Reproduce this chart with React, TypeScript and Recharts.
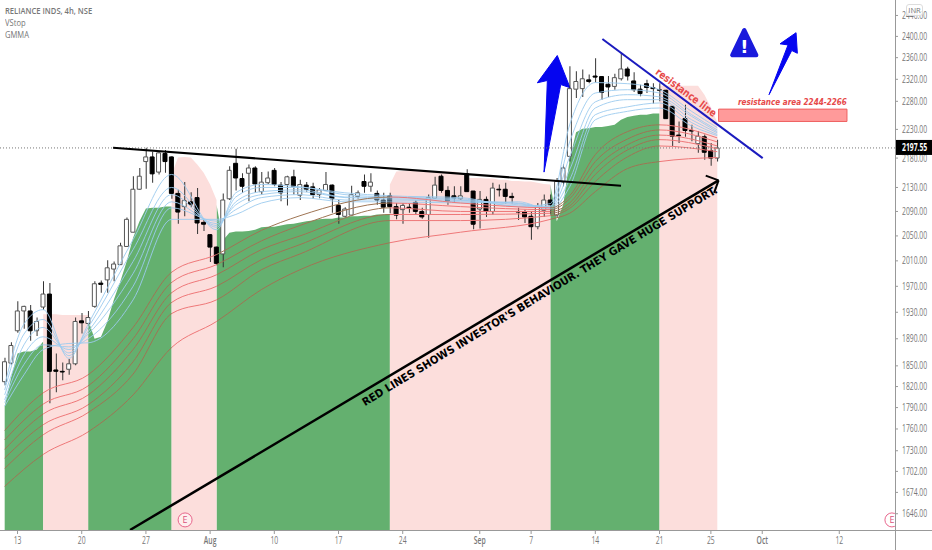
import {
  Area,
  Bar,
  Cell,
  ComposedChart,
  Line,
  ReferenceArea,
  ReferenceDot,
  ReferenceLine,
  XAxis,
  YAxis,
} from "recharts";

// one slot = one 4h candle, slot 0 is the first candle on screen
const highs = [
  1862, 1885, 1947, 1940, 1941, 1922, 1978, 1975, 1868, 1855,
  1860, 1922, 1929, 1932, 1978, 1979, 2011, 2009, 2039, 2080,
  2149, 2163, 2198, 2191, 2190, 2194, 2183, 2126, 2139, 2122,
  2129, 2077, 2053, 2033, 2120, 2166, 2196, 2154, 2169, 2166,
  2156, 2157, 2163, 2139, 2150, 2160, 2143, 2139, 2138, 2129,
  2156, 2135, 2109, 2097, 2133, 2125, 2152, 2154, 2125, 2121,
  2121, 2104, 2104, 2104, 2109, 2096, 2118, 2148, 2152, 2132,
  2132, 2132, 2161, 2124, 2124, 2115, 2138, 2135, 2138, 2121,
  2096, 2093, 2090, 2104, 2118, 2118, 2146, 2169, 2344, 2335,
  2338, 2329, 2359, 2326, 2326, 2330, 2369, 2343, 2333, 2310,
  2319, 2313, 2313, 2301, 2271, 2244, 2274, 2238, 2227, 2221,
  2206, 2212,
];
const lows = [
  1822, 1852, 1899, 1905, 1887, 1894, 1934, 1796, 1812, 1829,
  1837, 1851, 1898, 1912, 1937, 1960, 1960, 1978, 2004, 2033,
  2056, 2126, 2128, 2138, 2152, 2155, 2111, 2070, 2082, 2097,
  2053, 2058, 2008, 2003, 2000, 2109, 2125, 2121, 2107, 2121,
  2118, 2136, 2132, 2107, 2100, 2118, 2109, 2123, 2111, 2112,
  2124, 2088, 2070, 2080, 2084, 2111, 2121, 2123, 2101, 2088,
  2087, 2077, 2070, 2088, 2084, 2078, 2047, 2111, 2121, 2101,
  2105, 2109, 2123, 2061, 2062, 2081, 2085, 2115, 2103, 2103,
  2076, 2071, 2044, 2061, 2081, 2085, 2080, 2132, 2174, 2286,
  2288, 2313, 2314, 2283, 2288, 2301, 2318, 2318, 2297, 2289,
  2295, 2276, 2280, 2249, 2201, 2206, 2217, 2209, 2189, 2177,
  2167, 2174,
];
const opens = [
  1827, 1854, 1902, 1932, 1932, 1902, 1938, 1958, 1844, 1842,
  1845, 1853, 1917, 1913, 1939, 1975, 1980, 1997, 2004, 2033,
  2056, 2127, 2174, 2182, 2156, 2188, 2182, 2120, 2098, 2106,
  2113, 2072, 2052, 2032, 2021, 2111, 2171, 2145, 2154, 2163,
  2123, 2138, 2159, 2134, 2135, 2148, 2117, 2134, 2131, 2118,
  2125, 2134, 2100, 2082, 2084, 2115, 2140, 2132, 2120, 2109,
  2116, 2098, 2093, 2097, 2105, 2090, 2085, 2112, 2149, 2125,
  2116, 2111, 2153, 2124, 2094, 2110, 2090, 2127, 2127, 2115,
  2090, 2089, 2082, 2065, 2092, 2109, 2084, 2139, 2183, 2302,
  2303, 2319, 2326, 2325, 2311, 2307, 2321, 2339, 2317, 2302,
  2312, 2305, 2301, 2300, 2271, 2220, 2249, 2228, 2205, 2217,
  2193, 2180,
];
const closes = [
  1856, 1880, 1932, 1939, 1902, 1916, 1958, 1842, 1842, 1841,
  1853, 1916, 1914, 1922, 1974, 1973, 1999, 2005, 2034, 2077,
  2127, 2149, 2182, 2153, 2189, 2174, 2120, 2089, 2108, 2102,
  2071, 2069, 2032, 2006, 2109, 2159, 2146, 2132, 2163, 2136,
  2139, 2146, 2135, 2121, 2148, 2132, 2135, 2127, 2118, 2126,
  2135, 2111, 2085, 2094, 2118, 2121, 2132, 2139, 2109, 2097,
  2098, 2084, 2100, 2096, 2090, 2081, 2113, 2134, 2125, 2107,
  2112, 2116, 2123, 2069, 2110, 2090, 2129, 2126, 2115, 2113,
  2089, 2081, 2065, 2098, 2109, 2101, 2140, 2163, 2303, 2316,
  2321, 2316, 2324, 2296, 2306, 2323, 2339, 2326, 2301, 2294,
  2305, 2303, 2300, 2249, 2218, 2219, 2228, 2227, 2218, 2190,
  2180, 2197.55,
];

// [first slot, top of the shaded band at each slot]
const greenRuns: [number, number[]][] = [
  [0, [1792, 1833, 1868, 1871, 1871, 1874, 1886]],
  [13, [1919, 1890, 1893, 1916, 1949, 1977, 2009, 2047, 2074, 2095, 2096, 2096, 2098, 2098]],
  [33, [2101, 2043, 2055, 2057, 2057, 2058, 2060, 2064, 2065, 2065, 2067, 2069, 2070, 2072,
    2074, 2075, 2077, 2078, 2078, 2080, 2080, 2082, 2082, 2083, 2083, 2085, 2085, 2086]],
  [85, [2135, 2074, 2101, 2177, 2225, 2231, 2232, 2234, 2234, 2236, 2238, 2247, 2252, 2254, 2256, 2256, 2258, 2258]],
];
const pinkRuns: [number, number[]][] = [
  [6, [1927, 1927, 1927, 1926, 1926, 1926, 1926, 1926]],
  [26, [2152, 2181, 2182, 2181, 2169, 2155, 2135, 2109]],
  [60, [2135, 2157, 2158, 2158, 2158, 2158, 2158, 2158, 2157, 2157, 2157, 2155, 2146,
    2146, 2146, 2145, 2145, 2143, 2143, 2141, 2141, 2140, 2140, 2138, 2136, 2135]],
  [102, [2308, 2308, 2308, 2308, 2308, 2308, 2308, 2292, 2269, 2242]],
];

const shortSlots = [0, 3, 6, 10, 13, 20, 26, 33, 36, 40, 46, 53, 60, 71, 80, 85, 88, 92, 97, 102, 107, 111];
const shortEmas = [
  [1822, 1912, 1934, 1861, 1912, 2044, 2152, 2060, 2121, 2135, 2131, 2121, 2116, 2113, 2098, 2103, 2238, 2314, 2312, 2301, 2262, 2233],
  [1815, 1897, 1919, 1865, 1907, 2028, 2130, 2064, 2114, 2130, 2130, 2118, 2114, 2111, 2099, 2099, 2208, 2295, 2301, 2295, 2256, 2229],
  [1808, 1881, 1907, 1869, 1901, 2009, 2118, 2067, 2106, 2123, 2126, 2114, 2113, 2109, 2101, 2098, 2182, 2279, 2292, 2288, 2253, 2226],
  [1801, 1866, 1893, 1874, 1897, 1990, 2106, 2070, 2101, 2118, 2123, 2113, 2111, 2108, 2103, 2096, 2160, 2268, 2283, 2283, 2247, 2224],
  [1797, 1852, 1881, 1878, 1890, 1970, 2096, 2074, 2093, 2113, 2118, 2109, 2109, 2106, 2104, 2095, 2143, 2256, 2270, 2277, 2242, 2221],
  [1792, 1837, 1874, 1883, 1884, 1949, 2077, 2077, 2085, 2104, 2113, 2106, 2106, 2104, 2106, 2093, 2131, 2247, 2262, 2268, 2236, 2219],
];

const longSlots = [0, 6, 13, 20, 26, 33, 40, 46, 60, 71, 85, 88, 92, 97, 102, 111];
const longEmas = [
  [1758, 1811, 1837, 1907, 1992, 2020, 2059, 2083, 2114, 2104, 2096, 2116, 2186, 2226, 2238, 2215],
  [1745, 1795, 1821, 1890, 1976, 2004, 2042, 2067, 2104, 2098, 2093, 2111, 2174, 2213, 2229, 2208],
  [1732, 1781, 1808, 1874, 1960, 1988, 2028, 2050, 2096, 2090, 2090, 2104, 2162, 2203, 2220, 2201],
  [1720, 1766, 1794, 1856, 1945, 1970, 2012, 2036, 2085, 2085, 2087, 2099, 2152, 2194, 2212, 2196],
  [1706, 1752, 1783, 1838, 1928, 1949, 1996, 2021, 2075, 2075, 2083, 2095, 2140, 2182, 2201, 2191],
  [1682, 1725, 1756, 1808, 1877, 1916, 1965, 1996, 2039, 2056, 2077, 2087, 2123, 2162, 2174, 2181],
];

const dateTicks = [2, 12, 22, 32, 42, 52, 62, 74, 82, 92, 102, 110, 118, 130];
const dateLabels = ["13", "20", "27", "Aug", "10", "17", "24", "Sep", "7", "14", "21", "25", "Oct", "12"];
const lastPrice = 2197.55;
const priceTicks = [2440, 2400, 2360, 2320, 2280, 2230, 2180, 2130, 2090, 2050, 2010, 1970, 1930, 1890, 1850, 1820, 1790, 1760, 1730, 1702, 1674, 1646, lastPrice];

const FLOOR = 1625;
const CEILING = 2470;
const FONT = "'Open Sans', 'Noto Sans', sans-serif";

const runValue = (runs: [number, number[]][], slot: number) => {
  for (const [start, tops] of runs) {
    if (slot >= start && slot < start + tops.length) return tops[slot - start];
  }
  return null;
};

const rows = closes.map((close, slot) => {
  const row: Record<string, any> = {
    slot,
    wick: [lows[slot], highs[slot]],
    body: [Math.min(opens[slot], close), Math.max(opens[slot], close)],
    up: close >= opens[slot],
    green: runValue(greenRuns, slot),
    pink: runValue(pinkRuns, slot),
  };
  shortEmas.forEach((vals, n) => {
    const k = shortSlots.indexOf(slot);
    row[`s${n}`] = k >= 0 ? vals[k] : null;
  });
  longEmas.forEach((vals, n) => {
    const k = longSlots.indexOf(slot);
    row[`l${n}`] = k >= 0 ? vals[k] : null;
  });
  return row;
});

// the long EMAs read brown where they pass under the green band
const BROWN = "#9E7453";
const ROSE = "#EE7778";
const longStops = [
  [0, BROWN], [6, BROWN], [6, ROSE], [13, ROSE], [13, BROWN], [26, BROWN],
  [26, ROSE], [33, ROSE], [33, BROWN], [60, BROWN], [60, ROSE], [85, ROSE],
  [85, BROWN], [102, BROWN], [102, ROSE], [111, ROSE],
] as [number, string][];

const polygonIn = (points: number[][], fill: string) => (p: any) => (
  <polygon
    points={points.map(([fx, fy]) => `${p.x + fx * p.width},${p.y + fy * p.height}`).join(" ")}
    fill={fill}
    stroke={fill}
    strokeWidth={1}
    strokeLinejoin="round"
  />
);

const bigArrow = [[0.61, 0], [0, 0.234], [0.306, 0.214], [0.205, 1], [0.716, 0.249], [1, 0.276]];
const slimArrow = [[0.954, 0], [0.389, 0.18], [0.671, 0.197], [0, 1], [0.802, 0.287], [1, 0.332]];

const Warning = (p: any) => (
  <g>
    <polygon
      points={`${p.x + p.width / 2},${p.y + 2} ${p.x + 2},${p.y + p.height - 2} ${p.x + p.width - 2},${p.y + p.height - 2}`}
      fill="#1A1ADC"
      stroke="#1A1ADC"
      strokeWidth={4}
      strokeLinejoin="round"
    />
    <text x={p.x + p.width / 2} y={p.y + p.height - 4} textAnchor="middle" fontFamily="DejaVu Sans" fontWeight={700} fontSize={18} fill="#fff">
      !
    </text>
  </g>
);

const Earnings = (p: any) => (
  <svg x={p.cx - 8} y={p.cy - 8} width={p.clipWidth ?? 16} height={16}>
    <circle cx={8} cy={8} r={7} fill="#fff" fillOpacity={0.5} stroke="#E8668C" strokeWidth={1} />
    <text x={8} y={11} textAnchor="middle" fontFamily={FONT} fontSize={9} fill="#D9537C">E</text>
  </svg>
);

// textLength and a middle anchor disagree in Chromium, so these start from the left end
const fittedLabel = (label: string, angle: number, size: number, length: number, fill: string, weight: number, style = "normal") => (p: any) => (
  <text
    x={p.cx - length / 2}
    y={p.cy}
    transform={`rotate(${angle} ${p.cx} ${p.cy})`}
    dominantBaseline="middle"
    textLength={length}
    lengthAdjust="spacingAndGlyphs"
    fontFamily="'DejaVu Sans', sans-serif"
    fontSize={size}
    fontWeight={weight}
    fontStyle={style}
    fill={fill}
  >
    {label}
  </text>
);

// the reference's axis text is narrow, squeeze it sideways
const PriceTick = ({ x, y, payload }: any) => {
  const last = payload.value === lastPrice;
  return (
    <g>
      {last && <rect x={x - 6} y={y - 8} width={38} height={15} fill="#000" />}
      <text
        transform={`translate(${x + 1} ${y + 3.5}) scale(0.68 1)`}
        fontFamily={FONT}
        fontSize={10}
        fontWeight={last ? 700 : 400}
        fill={last ? "#fff" : "#777"}
      >
        {payload.value.toFixed(2)}
      </text>
    </g>
  );
};

const DateTick = ({ x, y, payload }: any) => {
  const label = dateLabels[dateTicks.indexOf(payload.value)];
  return (
    <text
      transform={`translate(${x} ${y + 10}) scale(0.68 1)`}
      textAnchor="middle"
      fontFamily={FONT}
      fontSize={10}
      fontWeight={label.length > 2 ? 600 : 400}
      fill="#777"
    >
      {label}
    </text>
  );
};

const legendLine = {
  position: "absolute",
  left: 5,
  fontFamily: FONT,
  fontSize: 9.5,
  color: "#777",
  whiteSpace: "nowrap",
  transform: "scaleX(0.8)",
  transformOrigin: "left center",
} as const;

export default function App() {
  return (
    <div style={{ position: "absolute", left: 0, top: 0, width: 932, height: 550, background: "#fff", overflow: "hidden" }}>
      <ComposedChart width={932} height={550} data={rows} margin={{ top: 0, right: 0, bottom: 0, left: 0 }}>
        <defs>
          <linearGradient id="longEma" x1="0" y1="0" x2="1" y2="0">
            {longStops.map(([slot, color], i) => (
              <stop key={i} offset={slot / 111} stopColor={color} />
            ))}
          </linearGradient>
        </defs>
        <XAxis
          dataKey="slot"
          type="number"
          domain={[-0.73, 138.68]}
          allowDataOverflow
          ticks={dateTicks}
          interval={0}
          height={20}
          axisLine={false}
          tickSize={4}
          tickMargin={0}
          tickLine={{ stroke: "#999" }}
          tick={DateTick}
        />
        <XAxis xAxisId="wick" dataKey="slot" type="number" domain={[-0.73, 138.68]} allowDataOverflow hide />
        <YAxis
          orientation="right"
          scale="log"
          domain={[FLOOR, CEILING]}
          allowDataOverflow
          ticks={priceTicks}
          interval={0}
          width={37}
          axisLine={false}
          tickSize={3}
          tickMargin={3}
          tickLine={{ stroke: "#999" }}
          tick={PriceTick}
        />

        <Area dataKey="green" baseValue={FLOOR} stroke="none" fill="#64B06F" fillOpacity={1} dot={false} activeDot={false} isAnimationActive={false} />
        <Area dataKey="pink" baseValue={FLOOR} stroke="none" fill="#FCDEDC" fillOpacity={1} dot={false} activeDot={false} isAnimationActive={false} />

        {shortEmas.map((_, n) => (
          <Line key={n} dataKey={`s${n}`} type="monotone" connectNulls stroke="#9CCBEE" strokeWidth={0.9} dot={false} activeDot={false} isAnimationActive={false} />
        ))}
        {longEmas.map((_, n) => (
          <Line key={n} dataKey={`l${n}`} type="monotone" connectNulls stroke="url(#longEma)" strokeWidth={1} dot={false} activeDot={false} isAnimationActive={false} />
        ))}

        <Bar xAxisId="wick" dataKey="wick" barSize={1} fill="#333" isAnimationActive={false} />
        <Bar dataKey="body" barSize={4} stroke="#333" strokeWidth={1} isAnimationActive={false}>
          {rows.map((r) => (
            <Cell key={r.slot} fill={r.up ? "#fff" : "#000"} stroke={r.up ? "#555" : "#000"} />
          ))}
        </Bar>

        <ReferenceLine y={lastPrice} stroke="#777" strokeDasharray="1 2" />

        <ReferenceLine segment={[{ x: 16.88, y: 2198 }, { x: 96, y: 2133 }]} stroke="#000" strokeWidth={2} />
        <ReferenceLine segment={[{ x: 19.53, y: FLOOR }, { x: 111.2, y: 2142 }]} stroke="#000" strokeWidth={2.5} />
        <ReferenceLine segment={[{ x: 109.2, y: 2150 }, { x: 111.2, y: 2142 }]} stroke="#000" strokeWidth={2} />
        <ReferenceLine segment={[{ x: 111.2, y: 2142 }, { x: 110.5, y: 2121 }]} stroke="#000" strokeWidth={2} />
        <ReferenceLine segment={[{ x: 93.1, y: 2395 }, { x: 118.07, y: 2180 }]} stroke="#1B1BBE" strokeWidth={2} />

        <ReferenceArea x1={111.2} x2={131.2} y1={2244} y2={2266} fill="#FF9A9A" fillOpacity={1} stroke="#EF6060" strokeWidth={1} />
        <ReferenceArea x1={82.97} x2={88.06} y1={2156} y2={2364} shape={polygonIn(bigArrow, "#0505F0")} />
        <ReferenceArea x1={119.06} x2={123.47} y1={2292} y2={2407} shape={polygonIn(slimArrow, "#0505F0")} />
        <ReferenceArea x1={113} x2={117.4} y1={2361} y2={2416} shape={Warning} />

        <ReferenceDot x={83.4} y={1954} r={0} shape={fittedLabel("RED LINES SHOWS INVESTOR'S BEHAVIOUR. THEY GAVE HUGE SUPPORT.", -31.2, 11, 413, "#000", 700)} />
        <ReferenceDot x={106.1} y={2295} r={0} shape={fittedLabel("resistance line", 36.7, 10.5, 73, "#E64A4A", 700)} />
        <ReferenceDot x={122.7} y={2278} r={0} shape={fittedLabel("resistance area 2244-2266", 0, 9, 109, "#E64A4A", 700, "italic")} />

        <ReferenceDot x={28.1} y={1638} r={7} shape={Earnings} />
        <ReferenceDot x={138.2} y={1638} r={7} shape={(p: any) => <Earnings {...p} clipWidth={11} />} ifOverflow="visible" />
      </ComposedChart>

      <div style={{ position: "absolute", left: 0, top: 530, width: 932, height: 1, background: "#999" }} />
      <div style={{ position: "absolute", left: 895, top: 0, width: 1, height: 550, background: "#999" }} />

      <div style={{ ...legendLine, top: 4, fontWeight: 600 }}>RELIANCE INDS, 4h, NSE</div>
      <div style={{ ...legendLine, top: 16 }}>VStop</div>
      <div style={{ ...legendLine, top: 28 }}>GMMA</div>
      <div
        style={{
          position: "absolute",
          left: 906,
          top: 4,
          width: 15,
          height: 10,
          border: "1px solid #ddd",
          borderRadius: 3,
          background: "rgba(255,255,255,0.8)",
          fontFamily: FONT,
          fontSize: 7.5,
          lineHeight: "10px",
          textAlign: "center",
          color: "#777",
        }}
      >
        INR
      </div>
    </div>
  );
}
